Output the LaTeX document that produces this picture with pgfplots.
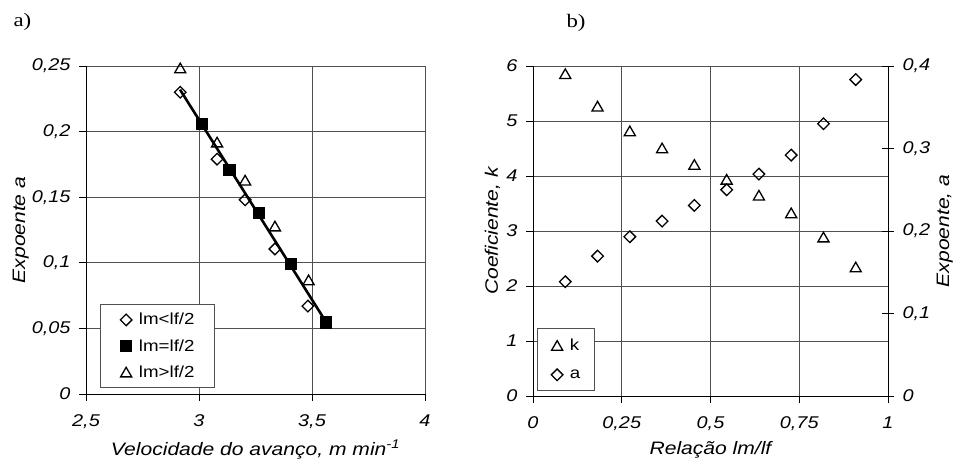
\documentclass[border=0pt]{standalone}
\usepackage{pgfplots}
\pgfplotsset{compat=1.18}
\usepackage{fontspec}
\setmainfont[FakeStretch=1.17]{Liberation Sans}
\newfontfamily\tnr[FakeStretch=1.2]{Liberation Serif}
\newcommand\tickfont{\itshape\fontsize{17}{19}\selectfont}
\newcommand\labfont{\itshape\fontsize{18}{21}\selectfont}
\newcommand\legfont{\fontsize{16}{19}\selectfont}
\definecolor{gridgray}{RGB}{80,80,80}

\pgfplotsset{
  common/.style={
    scale only axis, clip=false,
    /pgf/number format/assume math mode=true,
    /pgf/number format/use comma,
    /pgf/number format/fixed,
    /pgf/number format/precision=2,
    scaled ticks=false,
    ticklabel style={font=\tickfont},
    label style={font=\labfont},
    axis line style={-, black, line width=0.9pt},
    tick style={black, line width=0.9pt},
    major tick length=7pt,
    tick align=outside,
  },
  grd/.style={grid=major, grid style={gridgray, line width=0.9pt}},
  leg/.style={legend cell align=left,
    legend image code/.code={\draw[##1] plot coordinates {(0pt,0pt)};},
    legend style={font=\legfont, draw=gridgray, line width=0.9pt, fill=white,
      nodes={inner sep=0pt}, column sep=7pt}},
  dia/.style={only marks, mark=square, mark size=4.1pt,
    mark options={rotate=45, fill=white, draw=black, line width=1.3pt}},
  tri/.style={only marks, mark=triangle, mark size=6.4pt,
    mark options={yshift=-1.6pt, fill=white, draw=black, line width=1.3pt}},
  sqr/.style={only marks, mark=square*, mark size=5.6pt,
    mark options={fill=black, draw=black}},
}

\pgfplotstableread{
x      y
2.917  0.230
3.080  0.179
3.204  0.148
3.336  0.1105
3.482  0.067
}\lmless
\pgfplotstableread{
x      y
3.012  0.206
3.134  0.171
3.265  0.138
3.404  0.0996
3.560  0.0548
}\lmequal
\pgfplotstableread{
x      y
2.917  0.2485
3.080  0.192
3.204  0.163
3.336  0.128
3.485  0.087
}\lmmore
\pgfplotstableread{
r       k      a
0.0909  5.86   0.1385
0.1818  5.27   0.1695
0.2727  4.82   0.193
0.3636  4.51   0.212
0.4545  4.21   0.231
0.5455  3.94   0.250
0.6364  3.65   0.269
0.7273  3.33   0.292
0.8182  2.89   0.330
0.9091  2.345  0.3835
}\relacao

\begin{document}
\begin{tikzpicture}[x=1pt,y=1pt]
% a)
\begin{axis}[common, grd, leg,
  at={(86pt,64pt)}, anchor=south west, width=339pt, height=328pt,
  axis x line*=bottom, axis y line*=left,
  xmin=2.5, xmax=4, ymin=0, ymax=0.25,
  xtick={2.5,3,3.5,4}, ytick={0,0.05,0.1,0.15,0.2,0.25},
  xticklabel style={yshift=-10pt}, yticklabel style={xshift=-5pt},
  xlabel={Velocidade do avanço, m min\textsuperscript{-1}},
  ylabel={Expoente a},
  xlabel style={at={(axis description cs:0.5,-0.186)}, anchor=base},
  ylabel style={at={(axis description cs:-0.192,0.5)}, anchor=center},
  legend style={at={(0.041,0.018)}, anchor=south west,
    row sep=13pt, inner xsep=20pt, inner ysep=9pt},
]
\addplot[black, line width=2.6pt, forget plot] coordinates {(2.916,0.232) (3.558,0.056)};
\addplot[dia] table[x=x, y=y] {\lmless};
\addlegendentry{lm<lf/2}
\addplot[sqr] table[x=x, y=y] {\lmequal};
\addlegendentry{lm=lf/2}
\addplot[tri] table[x=x, y=y] {\lmmore};
\addlegendentry{lm>lf/2}
\end{axis}
% b) coeficiente k
\begin{axis}[common, grd,
  at={(533pt,62pt)}, anchor=south west, width=355pt, height=330pt,
  axis x line*=bottom, axis y line*=left,
  xmin=0, xmax=1, ymin=0, ymax=6,
  xtick={0,0.25,0.5,0.75,1}, ytick={0,1,2,3,4,5,6},
  xticklabel style={yshift=-10pt}, yticklabel style={xshift=-5pt},
  xlabel={Relação lm/lf},
  ylabel={Coeficiente, k},
  xlabel style={at={(axis description cs:0.5,-0.176)}, anchor=base},
  ylabel style={at={(axis description cs:-0.114,0.5)}, anchor=center},
]
\addplot[tri] table[x=r, y=k] {\relacao};
\end{axis}
% b) expoente a
\begin{axis}[common, leg,
  at={(533pt,62pt)}, anchor=south west, width=355pt, height=330pt,
  axis x line=none, axis y line*=right,
  xmin=0, xmax=1, ymin=0, ymax=0.4,
  ytick={0,0.1,0.2,0.3,0.4},
  tick align=center, major tick length=12pt,
  yticklabel style={xshift=5pt},
  ylabel={Expoente, a},
  ylabel style={at={(axis description cs:1.16,0.5)}, anchor=center},
  legend style={at={(0.011,0.015)}, anchor=south west,
    row sep=17pt, inner xsep=14pt, inner ysep=10pt},
]
\addlegendimage{tri}
\addlegendentry{k}
\addplot[dia] table[x=r, y=a] {\relacao};
\addlegendentry{a}
\end{axis}
\node[font=\tnr\fontsize{19}{21}\selectfont, anchor=base west] at (10pt,431pt) {a)};
\node[font=\tnr\fontsize{19}{21}\selectfont, anchor=base west] at (563pt,430pt) {b)};
\pgfresetboundingbox
\path[use as bounding box] (0pt,0pt) rectangle (953pt,458pt);
\end{tikzpicture}
\end{document}
